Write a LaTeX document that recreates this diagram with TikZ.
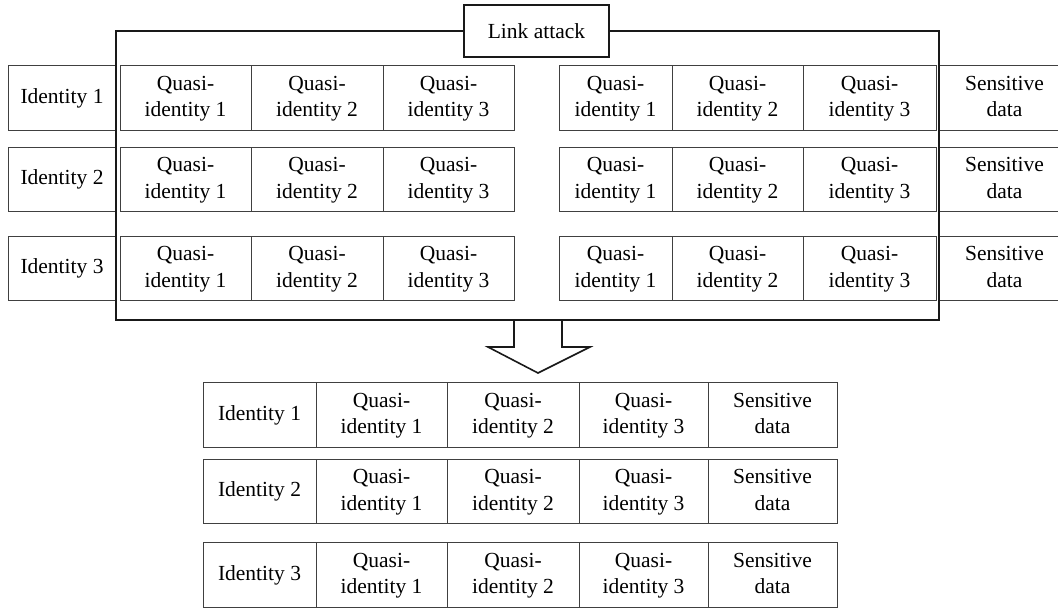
\documentclass[tikz,border=0pt]{standalone}
\usepackage{fontspec}
\setmainfont{Liberation Serif}
\usepackage{tikz}

\newcommand{\quasi}[1]{\begin{tabular}{c}
Quasi- \\
identity #1
\end{tabular}}
\newcommand{\sensitive}{\begin{tabular}{c}
Sensitive \\
data
\end{tabular}}

\tikzset{
  cell/.style={draw=black!75, line width=1pt, rectangle, inner sep=0pt, minimum height=64.5pt, font=\fontsize{21.5}{26.5}\selectfont},
  frame/.style={draw=black!90, line width=1.6pt}
}

\begin{document}
\begin{tikzpicture}[x=1pt, y=-1pt]
\useasboundingbox (0,0) rectangle (1058,608);

% rows before the attack
\foreach \r/\y in {1/98, 2/179.5, 3/268.5} {
  \node[cell, minimum width=108pt] (left id \r) at (62,\y) {Identity \r};
  \node[cell, minimum width=131pt] (left q \r 1) at (185.5,\y) {\quasi{1}};
  \node[cell, minimum width=132pt] (left q \r 2) at (317,\y) {\quasi{2}};
  \node[cell, minimum width=131pt] (left q \r 3) at (448.5,\y) {\quasi{3}};

  \node[cell, minimum width=113pt] (right q \r 1) at (615.5,\y) {\quasi{1}};
  \node[cell, minimum width=131pt] (right q \r 2) at (737.5,\y) {\quasi{2}};
  \node[cell, minimum width=133pt] (right q \r 3) at (869.5,\y) {\quasi{3}};
  \node[cell, minimum width=131pt] (right data \r) at (1004.5,\y) {\sensitive};
}

% frame round both tables
\node[frame, rectangle, minimum width=145pt, minimum height=52pt, font=\fontsize{21.5}{26.5}\selectfont] (link attack) at (536.5,31) {Link attack};
\coordinate (frame sw) at (116,320);
\coordinate (frame se) at (939,320);
\draw[frame] (link attack.west) -| (frame sw) -- (frame se) |- (link attack.east);

% hollow arrow
\coordinate (shaft left) at (514,320);
\coordinate (shaft right) at (562,320);
\coordinate (wing left) at (488,347);
\coordinate (wing right) at (590,347);
\coordinate (arrow tip) at (538,373);
\draw[frame, line join=miter] (shaft left) |- (wing left) -- (arrow tip) -- (wing right) -| (shaft right);

% rows after the attack
\foreach \r/\y in {1/415, 2/491.5, 3/575} {
  \node[cell, minimum width=113pt] (bottom id \r) at (259.5,\y) {Identity \r};
  \node[cell, minimum width=131pt] (bottom q \r 1) at (381.5,\y) {\quasi{1}};
  \node[cell, minimum width=132pt] (bottom q \r 2) at (513,\y) {\quasi{2}};
  \node[cell, minimum width=129pt] (bottom q \r 3) at (643.5,\y) {\quasi{3}};
  \node[cell, minimum width=129pt] (bottom data \r) at (772.5,\y) {\sensitive};
}
\end{tikzpicture}
\end{document}
